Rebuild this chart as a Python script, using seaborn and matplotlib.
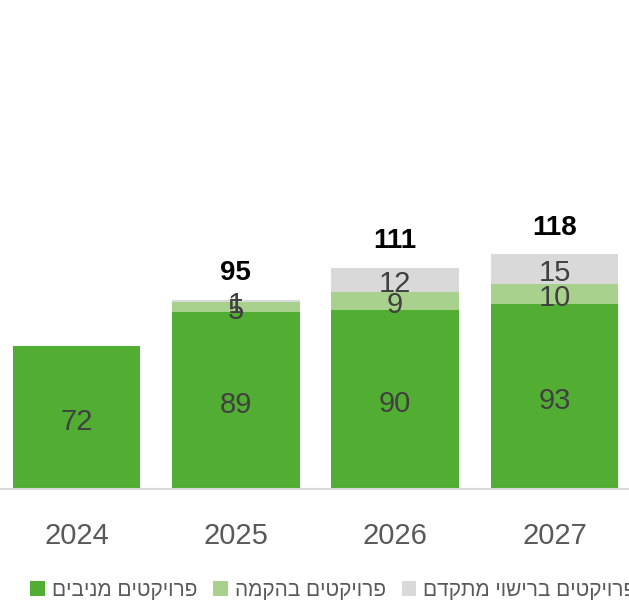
import matplotlib
matplotlib.use("Agg")
import matplotlib.pyplot as plt
from matplotlib.patches import Patch
import numpy as np
import pandas as pd
import seaborn as sns

# Project pipeline by year (units as stated on the bars)
years = ["2024", "2025", "2026", "2027"]
operating = [72, 89, 90, 93]        # פרויקטים מניבים
construction = [0, 5, 9, 10]        # פרויקטים בהקמה
licensing = [0, 1, 12, 15]          # פרויקטים ברישוי מתקדם

series_names = ["פרויקטים מניבים", "פרויקטים בהקמה", "פרויקטים ברישוי מתקדם"]
series_colors = ["#52AE32", "#A9D18E", "#D9D9D9"]


def visual(s):
    # matplotlib lays glyphs out left to right; Hebrew runs are flipped for display
    return s[::-1]


sns.set_theme(style="white")
plt.rcParams["font.family"] = ["Liberation Sans", "DejaVu Sans"]

df = pd.DataFrame({
    "year": years,
    "operating": operating,
    "construction": construction,
    "licensing": licensing,
})
df["lvl1"] = df["operating"]
df["lvl2"] = df["lvl1"] + df["construction"]
df["lvl3"] = df["lvl2"] + df["licensing"]

fig = plt.figure(figsize=(6.29, 6.01), dpi=100)
ax = fig.add_axes([0.0, 0.1864, 1.0, 0.8136])

# Stack by overdrawing cumulative heights, tallest first
for col, color in zip(["lvl3", "lvl2", "lvl1"], series_colors[::-1]):
    sns.barplot(data=df, x="year", y=col, color=color, saturation=1,
                width=0.8, ax=ax, edgecolor="none")

ax.set_xlim(-0.48, 3.468)
ax.set_ylim(0, 246)

# Segment value labels
label_color = "#404040"
for i in range(len(years)):
    bottoms = [0, df["lvl1"][i], df["lvl2"][i]]
    vals = [operating[i], construction[i], licensing[i]]
    for b, v in zip(bottoms, vals):
        if v > 0:
            ax.annotate(str(v), xy=(i, b + v / 2), xytext=(0, -3),
                        textcoords="offset points", ha="center", va="center",
                        fontsize=21, color=label_color)
    if sum(1 for v in vals if v > 0) > 1:
        ax.annotate(str(df["lvl3"][i]), xy=(i, df["lvl3"][i]),
                    xytext=(0, 10), textcoords="offset points",
                    ha="center", va="bottom", fontsize=20,
                    fontweight="bold", color="black")

for s in ["top", "left", "right"]:
    ax.spines[s].set_visible(False)
ax.spines["bottom"].set_color("#D9D9D9")
ax.spines["bottom"].set_linewidth(1.5)
ax.set_xlabel("")
ax.set_ylabel("")
ax.set_yticks([])
ax.tick_params(axis="x", length=0, pad=23.5, labelsize=21, labelcolor="#595959")

handles = [Patch(facecolor=c, edgecolor="none") for c in series_colors]
fig.legend(handles, [visual(n) for n in series_names],
           loc="center left", bbox_to_anchor=(0.048, 0.018),
           ncol=3, frameon=False, fontsize=15, labelcolor="#595959",
           handlelength=0.7, handleheight=0.7, handletextpad=0.35,
           columnspacing=0.75, borderaxespad=0, borderpad=0)

fig.savefig("out.png", dpi=100)
